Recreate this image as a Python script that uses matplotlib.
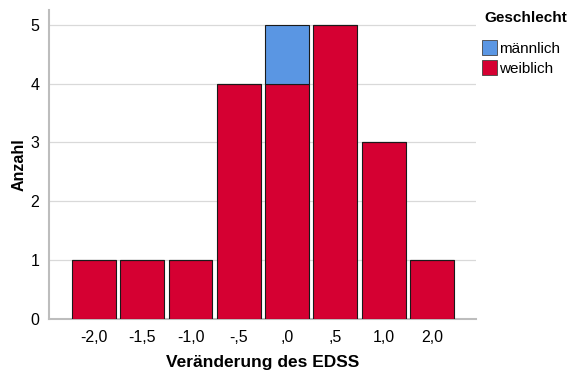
import numpy as np
import matplotlib.pyplot as plt
from matplotlib.patches import Patch

plt.rcParams['font.family'] = ['Liberation Sans', 'DejaVu Sans']

# Daten
categories = ['-2,0', '-1,5', '-1,0', '-,5', ',0', ',5', '1,0', '2,0']
weiblich = [1, 1, 1, 4, 4, 5, 3, 1]
maennlich = [0, 0, 0, 0, 1, 0, 0, 0]

col_w = '#D50032'
col_m = '#5A96E3'
grid_col = '#D9D9D9'
axis_col = '#BDBDBD'

fig = plt.figure(figsize=(5.7, 3.71), dpi=100)
ax = fig.add_axes([0.086, 0.140, 0.749, 0.833])

x = np.arange(len(categories))
ax.bar(x, weiblich, width=0.91, color=col_w, edgecolor='#1a1a1a', linewidth=0.8, zorder=3)
ax.bar(x, maennlich, width=0.91, bottom=weiblich, color=col_m, edgecolor='#1a1a1a',
       linewidth=0.8, zorder=3)

ax.set_xlim(-0.93, 7.91)
ax.set_ylim(0, 5.25)
ax.set_yticks(range(6))
ax.set_xticks(x)
ax.set_xticklabels(categories)
ax.tick_params(axis='both', length=0, labelsize=11.5, colors='black')
ax.tick_params(axis='x', pad=8)
ax.tick_params(axis='y', pad=7)
ax.yaxis.grid(True, color=grid_col, linewidth=0.9, zorder=0)
ax.set_axisbelow(True)

for s in ['top', 'right']:
    ax.spines[s].set_visible(False)
for s in ['left', 'bottom']:
    ax.spines[s].set_color(axis_col)
    ax.spines[s].set_linewidth(1.5)

ax.set_xlabel('Veränderung des EDSS', fontsize=12.5, fontweight='bold', labelpad=7)
ax.set_ylabel('Anzahl', fontsize=11.5, fontweight='bold', labelpad=3)

# Legende
fig.text(0.849, 0.951, 'Geschlecht', fontsize=11, fontweight='bold', va='center')
handles = [Patch(facecolor=col_m, edgecolor='#444444', linewidth=0.6),
           Patch(facecolor=col_w, edgecolor='#444444', linewidth=0.6)]
leg = fig.legend(handles, ['männlich', 'weiblich'],
                 loc='upper left', bbox_to_anchor=(0.846, 0.892), frameon=False,
                 fontsize=11, handlelength=1.0, handleheight=1.1, handletextpad=0.1,
                 labelspacing=0.3, borderaxespad=0, borderpad=0)

fig.savefig('out.png', dpi=100)
